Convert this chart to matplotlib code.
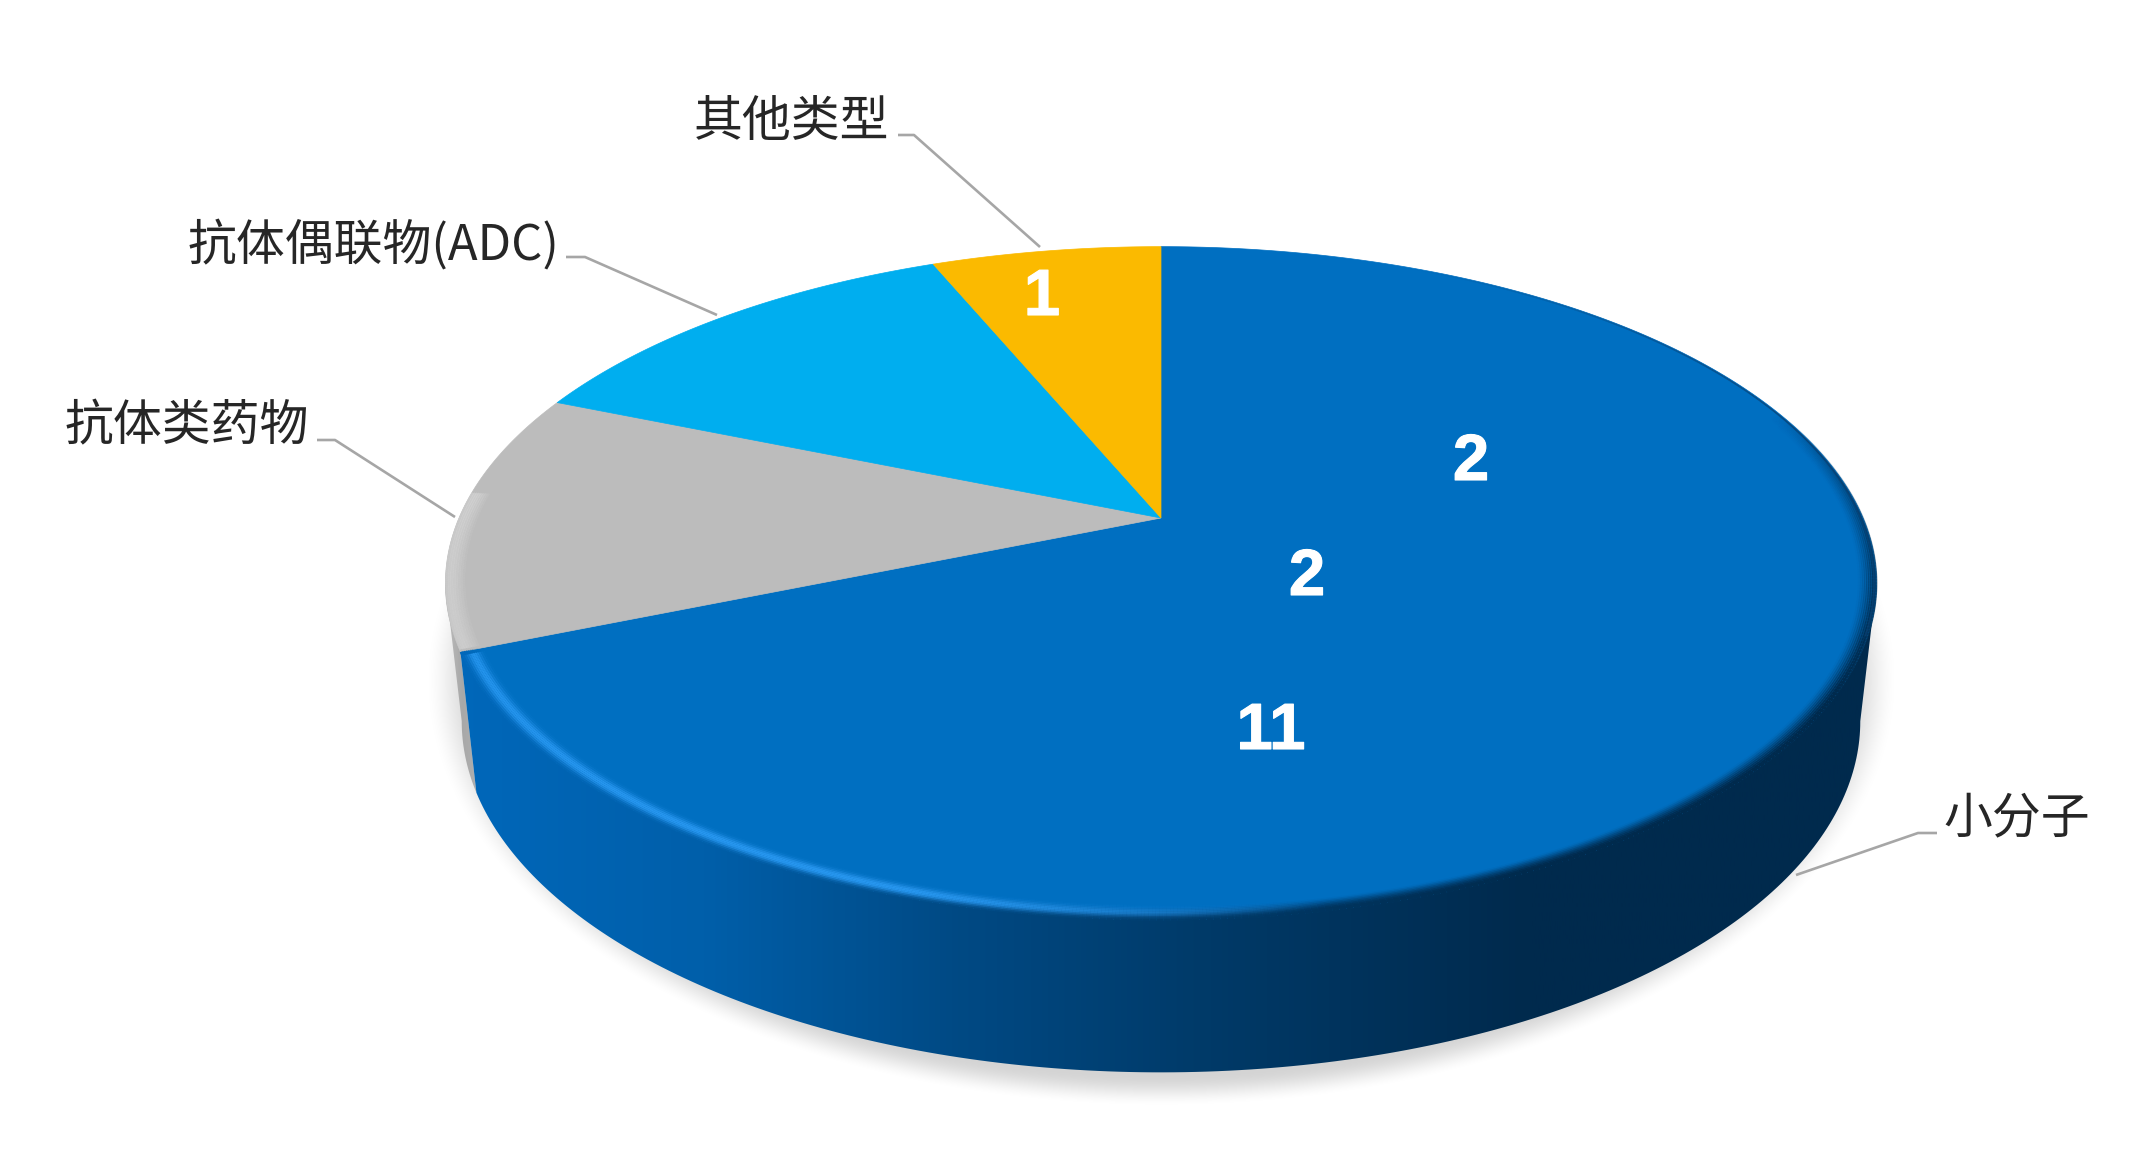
import numpy as np
import matplotlib
matplotlib.use('Agg')
import matplotlib.pyplot as plt
import matplotlib.patheffects as pe
from matplotlib.collections import LineCollection
from matplotlib.colors import LinearSegmentedColormap, to_rgb
from matplotlib.patches import Polygon

plt.rcParams['font.family'] = ['Noto Sans CJK SC', 'DejaVu Sans']

# data
categories = ['小分子', '抗体类药物', '抗体偶联物(ADC)', '其他类型']
values = [11, 2, 2, 1]
colors = ['#006fc1', '#bcbcbc', '#00aeef', '#fbba00']
value_labels = ['11', '2', '2', '1']

# layout, in pixels of the picture
value_label_pos = [(1271, 732), (1307, 578), (1471, 463), (1042, 298)]
name_pos = [(2090, 819, 'right'), (309, 427, 'right'), (559, 246, 'right'), (889, 122, 'right')]
leaders = [
    [(1937, 833), (1918, 833), (1796, 875)],
    [(317, 440), (335, 440), (455, 517)],
    [(566, 257), (585, 257), (717, 315)],
    [(898, 135), (914, 135), (1040, 247)],
]

# perspective of the disc
CX, CY = 1161, 518
TOP_B, TOP_A = 702, 324
BOT_CY, BOT_B, BOT_A = 653, 686, 338
K = 0.194
SILHOUETTE = np.degrees(np.arccos(-K))  # clockwise from the top


def top_face(theta, r=1.0):
    t = np.radians(theta)
    u, v = r * np.sin(t), r * np.cos(t)
    w = 1 + K * v
    return CX + TOP_B * u / w, CY - TOP_A * v / w


def bottom_face(theta):
    t = np.radians(theta)
    u, v = np.sin(t), np.cos(t)
    w = 1 + K * v
    return CX + BOT_B * u / w, BOT_CY - BOT_A * v / w


def side_polygon(t0, t1):
    th = np.linspace(t0, t1, 200)
    x1, y1 = top_face(th)
    x2, y2 = bottom_face(th[::-1])
    return np.column_stack([np.r_[x1, x2], np.r_[y1, y2]])


fig = plt.figure(figsize=(21.36, 11.76), dpi=100, facecolor='white')
ax = fig.add_axes([0, 0, 1, 1])

# soft shadow under the disc
yy, xx = np.mgrid[0:1176, 0:2136]
rad = np.sqrt(((xx - 1161) / 738) ** 2 + ((yy - 680) / 427) ** 2)
fade = np.clip((1.0 - rad) / 0.075, 0, 1)
fade = fade * fade * (3 - 2 * fade)
shadow = np.zeros((1176, 2136, 4))
shadow[..., 3] = 0.17 * fade
ax.imshow(shadow, extent=(0, 2136, 1176, 0), aspect='auto', zorder=1)

# wedge limits, clockwise from the top
edges = np.cumsum([0] + values) / sum(values) * 360

# side wall of the grey wedge
grey_cmap = LinearSegmentedColormap.from_list('g', ['#c4c4c4', '#a8a8a8', '#b4b4b4'])
grad = np.linspace(0, 1, 256).reshape(1, -1)
im = ax.imshow(grad, extent=(440, 485, 1176, 0), aspect='auto', cmap=grey_cmap, zorder=2)
p = Polygon(side_polygon(edges[1], 360 - SILHOUETTE), closed=True, transform=ax.transData,
            facecolor='none', edgecolor='none')
ax.add_patch(p)
im.set_clip_path(p)

# side wall of the big wedge, dark towards the right
stops = [(440, '#0068bb'), (700, '#005faa'), (950, '#004a85'), (1210, '#003a68'),
         (1530, '#002a4d'), (1880, '#002a4d')]
x_lo, x_hi = stops[0][0], stops[-1][0]
side_cmap = LinearSegmentedColormap.from_list(
    'side', [((x - x_lo) / (x_hi - x_lo), c) for x, c in stops])
grad = np.linspace(0, 1, 1024).reshape(1, -1)
im = ax.imshow(grad, extent=(x_lo, x_hi, 1176, 0), aspect='auto', cmap=side_cmap, zorder=3)
p = Polygon(side_polygon(SILHOUETTE, edges[1]), closed=True, transform=ax.transData,
            facecolor='none', edgecolor='none')
ax.add_patch(p)
im.set_clip_path(p)

# top faces
for i, c in enumerate(colors):
    th = np.linspace(edges[i], edges[i + 1], 300)
    x, y = top_face(th)
    pts = np.column_stack([np.r_[CX, x], np.r_[CY, y]])
    ax.add_patch(Polygon(pts, closed=True, facecolor=c, edgecolor=c, linewidth=0.5, zorder=4))


def arc_lines(t0, t1, r):
    th = np.linspace(t0, t1, 400)
    x, y = top_face(th, r)
    pts = np.column_stack([x, y]).reshape(-1, 1, 2)
    mid = (th[:-1] + th[1:]) / 2
    mx = (x[:-1] + x[1:]) / 2
    return np.concatenate([pts[:-1], pts[1:]], axis=1), mid, mx


# bevel of the big wedge: dark blur on the right, highlight on the left
for r in np.linspace(0.974, 0.999, 10):
    segs, mid, mx = arc_lines(edges[0] + 60, edges[1], r)
    base = side_cmap(np.clip((mx - x_lo) / (x_hi - x_lo), 0, 1))
    strength = np.clip((r - 0.974) / 0.022, 0, 1) ** 1.5
    strength = strength * np.clip((mid - 70) / 50, 0, 1)
    rgba = base.copy()
    rgba[:, 3] = strength
    ax.add_collection(LineCollection(segs, colors=rgba, linewidths=2.2, zorder=5))

# thin dark edge along the far right of the rim
segs, mid, mx = arc_lines(edges[0] + 25, edges[0] + 110, 0.997)
rgba = np.zeros((len(mx), 4))
rgba[:, :3] = to_rgb('#0a3f70')
rgba[:, 3] = 0.85 * np.clip((mid - 25) / 50, 0, 1)
ax.add_collection(LineCollection(segs, colors=rgba, linewidths=1.2, zorder=5))

light = to_rgb('#2a9bf5')
for r in np.linspace(0.966, 0.998, 12):
    segs, mid, mx = arc_lines(150, edges[1] - 0.6, r)
    strength = np.exp(-((r - 0.985) / 0.008) ** 2) * np.clip((1330 - mx) / 420, 0, 1)
    rgba = np.zeros((len(mx), 4))
    rgba[:, :3] = light
    rgba[:, 3] = 0.8 * strength
    ax.add_collection(LineCollection(segs, colors=rgba, linewidths=2.0, zorder=6))

# pale rim of the grey wedge
for r, a in zip(np.linspace(0.975, 0.998, 8), [0.15, 0.25, 0.35, 0.45, 0.55, 0.6, 0.6, 0.5]):
    segs, mid, mx = arc_lines(edges[1] + 0.4, edges[2] - 18, r)
    rgba = np.zeros((len(mx), 4))
    rgba[:, :3] = to_rgb('#dcdcdc')
    rgba[:, 3] = a
    ax.add_collection(LineCollection(segs, colors=rgba, linewidths=2.0, zorder=6))

# leader lines and names
for pts in leaders:
    ax.plot(*zip(*pts), color='#a6a6a6', lw=1.9, zorder=7, solid_capstyle='butt')
for name, (x, y, ha) in zip(categories, name_pos):
    ax.text(x, y, name, fontsize=35.2, color='#262626', ha=ha, va='center', zorder=8)

# numbers
for txt, (x, y) in zip(value_labels, value_label_pos):
    ax.text(x, y, txt, fontsize=47, color='white', fontweight='bold', family=['Liberation Sans'],
            ha='center', va='center', zorder=8,
            path_effects=[pe.withStroke(linewidth=0.8, foreground='white')])

ax.set_xlim(0, 2136)
ax.set_ylim(1176, 0)
ax.axis('off')
fig.savefig('out.png', dpi=100, facecolor='white')
